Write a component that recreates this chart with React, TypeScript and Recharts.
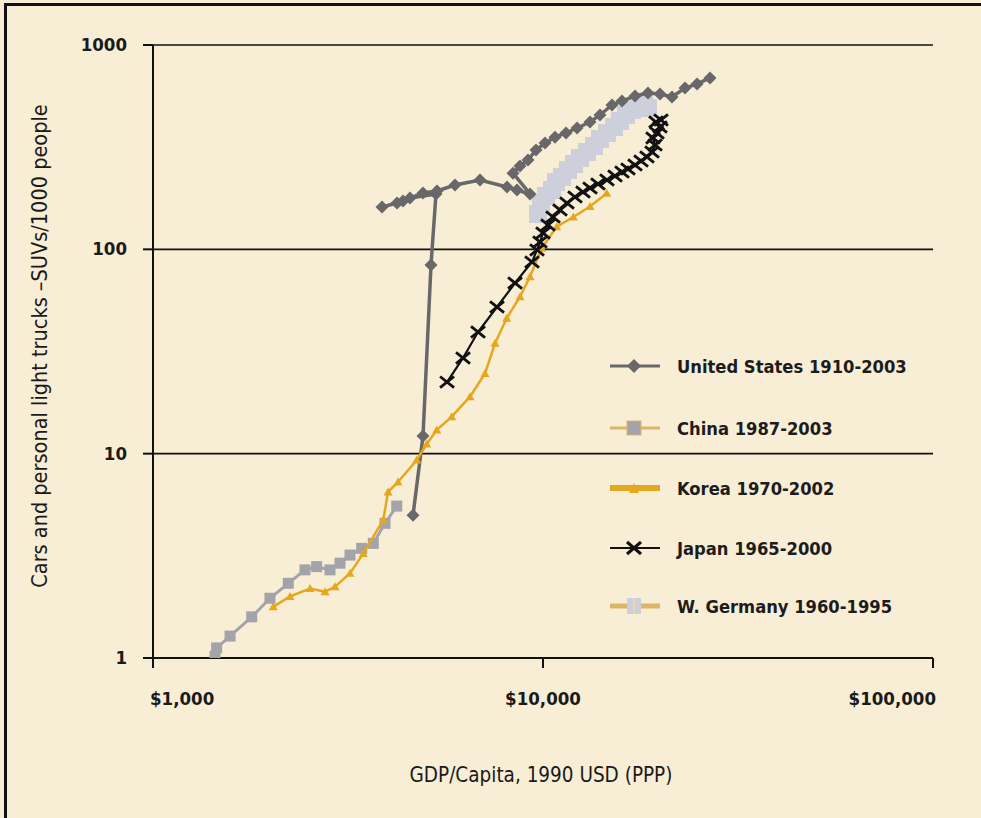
import React from "react";
import { ScatterChart, Scatter, XAxis, YAxis, CartesianGrid, Label } from "recharts";

const FONT = "'DejaVu Sans Condensed', 'DejaVu Sans', sans-serif";

const xTicks = [1000, 10000, 100000];
const xTickLabels = ["$1,000", "$10,000", "$100,000"];
const yTicks = [1, 10, 100, 1000];
const yTickLabels = ["1", "10", "100", "1000"];

const seriesNames = [
  "United States 1910-2003",
  "China 1987-2003",
  "Korea 1970-2002",
  "Japan 1965-2000",
  "W. Germany 1960-1995",
];

// United States: GDP per capita (1990 USD), vehicles per 1000 people
const usGdp = [4642, 4924, 5162, 5316, 4560, 4224, 3866, 4375, 4924, 5349, 5948, 6895, 8087, 8577, 9262, 8377, 8730, 9152, 9596, 10118, 10734, 11455, 12227, 13200, 14001, 15030, 15943, 17218, 18590, 19953, 21419, 23128, 24830, 26808];
const usVeh = [5.0, 12.2, 83.8, 186.5, 178.4, 168.5, 161, 172.5, 188.7, 193, 206.5, 218.5, 202, 195, 186.6, 236, 255.8, 273.6, 306, 331, 354, 371, 392.6, 420, 454.5, 508.6, 532, 563, 582, 576, 557, 616, 645, 690];

const chinaGdp = [1442, 1456, 1576, 1791, 1995, 2223, 2453, 2628, 2843, 3016, 3200, 3429, 3672, 3935, 4217];
const chinaVeh = [1.02, 1.12, 1.28, 1.59, 1.96, 2.32, 2.70, 2.80, 2.70, 2.91, 3.19, 3.44, 3.64, 4.56, 5.54];

const koreaGdp = [2033, 2245, 2527, 2761, 2929, 3200, 3462, 3895, 4005, 4249, 4745, 5033, 5339, 5833, 6499, 7101, 7535, 8071, 8730, 9262, 9924, 10843, 11963, 13200, 14568];
const koreaVeh = [1.78, 2.0, 2.19, 2.11, 2.23, 2.6, 3.25, 4.74, 6.49, 7.27, 9.31, 11.15, 13.06, 15.17, 19.0, 24.7, 34.7, 46.0, 58.6, 73.5, 101.2, 129, 144, 162, 188];

const japanGdp = [5675, 6236, 6813, 7622, 8477, 9371, 9652, 9825, 10000, 10300, 10608, 11055, 11521, 12079, 12663, 13199, 13837, 14591, 15297, 15943, 16519, 17218, 17838, 18479, 19032, 19372, 19145, 19602, 19953, 19486, 20071];
const japanVeh = [22.4, 29.4, 39.4, 52.2, 68.4, 86.7, 99.3, 108.6, 120.2, 131.5, 143.9, 155.8, 168.6, 180.4, 190.8, 199.6, 208.8, 218.5, 228.6, 239.1, 247.4, 258.8, 270.7, 283.2, 299.5, 324.1, 350.6, 371.0, 397.0, 420.1, 429.5];

const germanyGdp = [9709, 9883, 10179, 10546, 10798, 11186, 11589, 12006, 12439, 12966, 13513, 14001, 14591, 15207, 15756, 16325, 16914, 17525, 18157, 18590];
const germanyVeh = [148.9, 168.5, 182.4, 195.2, 213.6, 225.9, 244.5, 261.6, 279.9, 299.5, 320.4, 346.7, 371, 397, 424.8, 454.5, 480.8, 502.9, 514.4, 491.7];

const zip = (xs: number[], ys: number[]) => xs.map((x, i) => ({ x, y: ys[i] }));

const usData = zip(usGdp, usVeh);
const chinaData = zip(chinaGdp, chinaVeh);
const koreaData = zip(koreaGdp, koreaVeh);
const japanData = zip(japanGdp, japanVeh);
const germanyData = zip(germanyGdp, germanyVeh);

const C_US = "#68686a";
const C_CHINA = "#a3a3aa";
const C_KOREA = "#e5a71e";
const C_JAPAN = "#111111";
const C_GER = "#cdd0da";
const C_TAN = "#dcb566";

const Diamond = (p: any) => {
  const { cx, cy } = p;
  const r = 6.5;
  return <polygon points={`${cx},${cy - r} ${cx + r},${cy} ${cx},${cy + r} ${cx - r},${cy}`} fill={C_US} />;
};
const Square = (p: any) => {
  const { cx, cy } = p;
  return <rect x={cx - 5.5} y={cy - 5.5} width={11} height={11} fill={C_CHINA} />;
};
const Tri = (p: any) => {
  const { cx, cy } = p;
  return <polygon points={`${cx},${cy - 4.5} ${cx + 4.5},${cy + 3.5} ${cx - 4.5},${cy + 3.5}`} fill={C_KOREA} />;
};
const XMark = (p: any) => {
  const { cx, cy } = p;
  const r = 7;
  return (
    <g stroke={C_JAPAN} strokeWidth={2.8}>
      <line x1={cx - r} y1={cy - r * 0.8} x2={cx + r} y2={cy + r * 0.8} />
      <line x1={cx - r} y1={cy + r * 0.8} x2={cx + r} y2={cy - r * 0.8} />
    </g>
  );
};
const GerSq = (p: any) => {
  const { cx, cy } = p;
  return <rect x={cx - 9} y={cy - 9} width={18} height={18} fill={C_GER} />;
};

const XTick = (p: any) => {
  const { x, y, payload, index } = p;
  const anchor = index === 0 ? "start" : index === xTicks.length - 1 ? "end" : "middle";
  const dx = index === 0 ? -3 : index === xTicks.length - 1 ? 3 : 0;
  return (
    <text x={x + dx} y={y + 35} textAnchor={anchor} fontFamily={FONT} fontSize={18.5} fontWeight="bold" fill="#1a1a1a">
      {xTickLabels[xTicks.indexOf(payload.value)]}
    </text>
  );
};
const YTick = (p: any) => {
  const { x, y, payload } = p;
  return (
    <text x={x - 14} y={y + 6} textAnchor="end" fontFamily={FONT} fontSize={18.5} fontWeight="bold" fill="#1a1a1a">
      {yTickLabels[yTicks.indexOf(payload.value)]}
    </text>
  );
};

const legendItems = [
  { name: seriesNames[0], line: C_US, lw: 3, marker: "diamond" },
  { name: seriesNames[1], line: C_TAN, lw: 3, marker: "square" },
  { name: seriesNames[2], line: C_KOREA, lw: 6, marker: "tri" },
  { name: seriesNames[3], line: C_JAPAN, lw: 2, marker: "x" },
  { name: seriesNames[4], line: C_TAN, lw: 5, marker: "ger" },
];

const LegendSymbol = ({ item }: any) => {
  const cx = 25, cy = 10;
  let m: any = null;
  if (item.marker === "diamond") m = <polygon points={`${cx},${cy - 7} ${cx + 7},${cy} ${cx},${cy + 7} ${cx - 7},${cy}`} fill={C_US} />;
  if (item.marker === "square") m = <rect x={cx - 7} y={cy - 7} width={14} height={14} fill={C_CHINA} stroke={C_TAN} strokeWidth={1} />;
  if (item.marker === "tri") m = <polygon points={`${cx},${cy - 5} ${cx + 5},${cy + 5} ${cx - 5},${cy + 5}`} fill={C_KOREA} />;
  if (item.marker === "x")
    m = (
      <g stroke={C_JAPAN} strokeWidth={3}>
        <line x1={cx - 7} y1={cy - 6} x2={cx + 7} y2={cy + 6} />
        <line x1={cx - 7} y1={cy + 6} x2={cx + 7} y2={cy - 6} />
      </g>
    );
  if (item.marker === "ger")
    m = (
      <g>
        <rect x={cx - 7} y={cy - 8} width={14} height={16} fill={C_GER} />
        <line x1={cx} y1={cy - 8} x2={cx} y2={cy + 8} stroke="#e6d7b8" strokeWidth={2} />
      </g>
    );
  return (
    <svg width={52} height={20} style={{ display: "block" }}>
      <line x1={1} y1={cy} x2={51} y2={cy} stroke={item.line} strokeWidth={item.lw} />
      {m}
    </svg>
  );
};

const legendTops = [366, 428, 488, 548, 606];

const LegendBox = () => (
  <div style={{ fontFamily: FONT, fontSize: 18.2, fontWeight: "bold", color: "#1c1c1c" }}>
    {legendItems.map((it, i) => (
      <div key={it.name} style={{ position: "absolute", left: 609, top: legendTops[i] - 15, display: "flex", alignItems: "center", height: 30 }}>
        <LegendSymbol item={it} />
        <span style={{ marginLeft: 16, whiteSpace: "nowrap" }}>{it.name}</span>
      </div>
    ))}
  </div>
);

export default function App() {
  return (
    <div style={{ position: "absolute", left: 0, top: 0, width: 981, height: 818, background: "#f8edd5", overflow: "hidden" }}>
      <div style={{ position: "absolute", left: 4, top: 3, width: 981, height: 2.5, background: "#111" }} />
      <div style={{ position: "absolute", left: 4, top: 3, width: 2.5, height: 818, background: "#111" }} />
      <ScatterChart width={981} height={818} margin={{ top: 45, right: 48, bottom: 120, left: 93 }}>
        <CartesianGrid horizontal={true} vertical={false} stroke="#111" strokeWidth={1.6} />
        <XAxis
          type="number"
          dataKey="x"
          scale="log"
          domain={[1000, 100000]}
          ticks={xTicks}
          tick={<XTick />}
          tickSize={10}
          axisLine={{ stroke: "#111", strokeWidth: 2 }}
          tickLine={{ stroke: "#111", strokeWidth: 2 }}
          height={40}
          allowDataOverflow
        >
          <Label
            content={() => (
              <text x={541} y={782} textAnchor="middle" fontFamily={FONT} fontSize={20.5} fill="#1a1a1a">
                GDP/Capita, 1990 USD (PPP)
              </text>
            )}
          />
        </XAxis>
        <YAxis
          type="number"
          dataKey="y"
          scale="log"
          domain={[1, 1000]}
          ticks={yTicks}
          tick={<YTick />}
          tickSize={10}
          axisLine={{ stroke: "#111", strokeWidth: 2 }}
          tickLine={{ stroke: "#111", strokeWidth: 2 }}
          width={60}
          allowDataOverflow
        >
          <Label
            content={() => (
              <text x={47} y={346} transform="rotate(-90 47 346)" textAnchor="middle" fontFamily={FONT} fontSize={21.5} fill="#1a1a1a">
                Cars and personal light trucks –SUVs/1000 people
              </text>
            )}
          />
        </YAxis>
        <Scatter name={seriesNames[4]} data={germanyData} fill={C_GER} line={{ stroke: C_GER, strokeWidth: 14 }} shape={<GerSq />} isAnimationActive={false} />
        <Scatter name={seriesNames[0]} data={usData} fill={C_US} line={{ stroke: C_US, strokeWidth: 3.5 }} shape={<Diamond />} isAnimationActive={false} />
        <Scatter name={seriesNames[1]} data={chinaData} fill={C_CHINA} line={{ stroke: C_CHINA, strokeWidth: 3 }} shape={<Square />} isAnimationActive={false} />
        <Scatter name={seriesNames[2]} data={koreaData} fill={C_KOREA} line={{ stroke: C_KOREA, strokeWidth: 2.5 }} shape={<Tri />} isAnimationActive={false} />
        <Scatter name={seriesNames[3]} data={japanData} fill={C_JAPAN} line={{ stroke: C_JAPAN, strokeWidth: 2.2 }} shape={<XMark />} isAnimationActive={false} />
      </ScatterChart>
      <LegendBox />
    </div>
  );
}
